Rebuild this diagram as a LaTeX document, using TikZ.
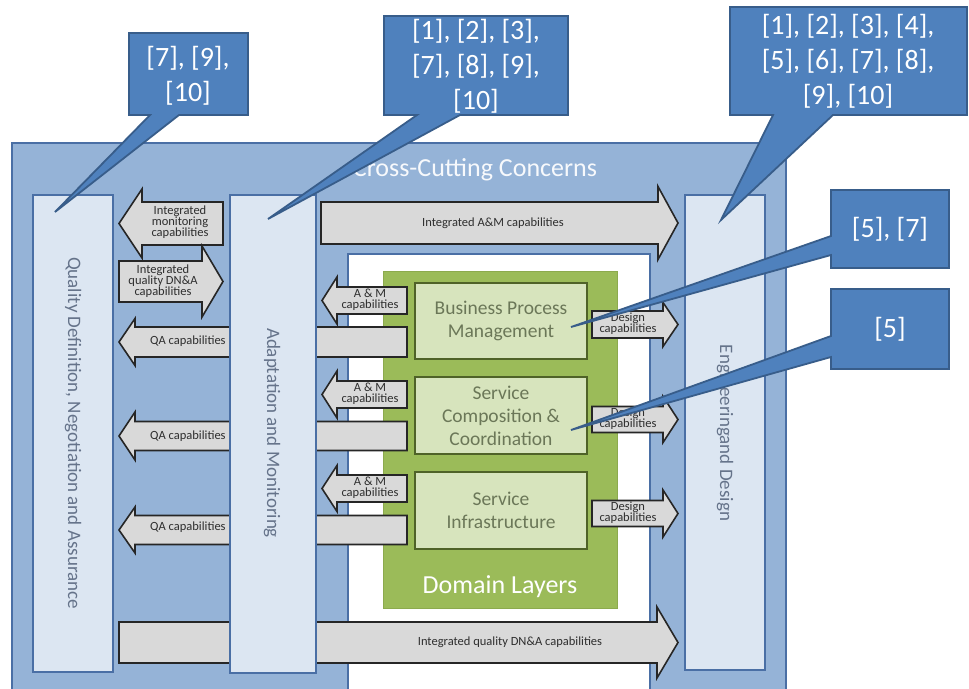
\documentclass[tikz,border=0pt]{standalone}
\usepackage{fontspec}
\setmainfont{Carlito}
\definecolor{outerblue}{HTML}{95B3D7}
\definecolor{blueline}{HTML}{4A6FA5}
\definecolor{panelfill}{HTML}{DCE6F2}
\definecolor{calfill}{HTML}{4F81BD}
\definecolor{calline}{HTML}{385D8A}
\definecolor{grayfill}{HTML}{D9D9D9}
\definecolor{grayline}{HTML}{262626}
\definecolor{greenbox}{HTML}{9BBB59}
\definecolor{greenline}{HTML}{8CAA4E}
\definecolor{lightgreen}{HTML}{D7E4BD}
\definecolor{olive}{HTML}{4F6228}
\definecolor{paneltext}{HTML}{65738A}
\definecolor{boxtext}{HTML}{6B7758}
\definecolor{arrtext}{HTML}{2E2E2E}
\newcommand\garrL[6]{\draw[garrow] (#1,#4) -- (#2,{#4-#6}) -- (#2,{#4-#5}) -- (#3,{#4-#5}) -- (#3,{#4+#5}) -- (#2,{#4+#5}) -- (#2,{#4+#6}) -- cycle;}
\newcommand\garrR[6]{\draw[garrow] (#3,#4) -- (#2,{#4-#6}) -- (#2,{#4-#5}) -- (#1,{#4-#5}) -- (#1,{#4+#5}) -- (#2,{#4+#5}) -- (#2,{#4+#6}) -- cycle;}
\begin{document}
\begin{tikzpicture}[x=1pt,y=-1pt,
  garrow/.style={fill=grayfill,draw=grayline,line width=1.6pt,line join=miter},
  arrlabel/.style={text=arrtext,font=\fontsize{12.5}{11.2}\selectfont,align=center,inner sep=0pt},
  panelbox/.style={fill=panelfill,draw=blueline,line width=1.5pt},
  panellabel/.style={text=paneltext,font=\fontsize{19}{21}\selectfont,rotate=-90,inner sep=0pt},
  layerbox/.style={fill=lightgreen,draw=olive,line width=1.8pt},
  layertext/.style={text=boxtext,font=\fontsize{19.5}{23}\selectfont,align=center,inner sep=0pt},
  callout/.style={fill=calfill,draw=calline,line width=1.8pt,line join=miter},
  caltext/.style={text=white,font=\fontsize{28}{35}\selectfont,align=center,inner sep=0pt}]
\useasboundingbox (0,0) rectangle (969,688);
\clip (0,0) rectangle (969,688);
\fill[white] (0,0) rectangle (969,688);
% outer cross-cutting area
\draw[fill=outerblue,draw=blueline,line width=1.8pt] (12,143) rectangle (786,720);
\node[text=white!92!outerblue,font=\fontsize{26}{28}\selectfont,inner sep=0pt] (ccc) at (475,170) {Cross-Cutting Concerns};
% white inner area
\draw[fill=white,draw=blueline,line width=1.5pt] (348,254) rectangle (650,720);
% domain layers
\draw[fill=greenbox,draw=greenline,line width=1pt] (383,271) rectangle (617,608);
\node[text=white,font=\fontsize{26}{28}\selectfont,inner sep=0pt] (dl) at (500,587) {Domain Layers};
\draw[layerbox] (415,283) rectangle (587,359);
\node[layertext] (bpm) at (501,321) {Business Process\\Management};
\draw[layerbox] (415,377) rectangle (587,454);
\node[layertext] (scc) at (501,415.5) {Service\\Composition \&\\Coordination};
\draw[layerbox] (415,472) rectangle (587,549);
\node[layertext] (si) at (501,510.5) {Service\\Infrastructure};
% arrows
\garrL{119}{142}{223}{223.5}{21.5}{34.5}
\node[arrlabel] (im) at (180,222) {Integrated\\monitoring\\capabilities};
\garrR{119}{202}{223}{281.5}{20.5}{35.5}
\node[arrlabel] (iq) at (163,281) {Integrated\\quality DN\&A\\capabilities};
\garrL{119}{135}{407}{342}{15}{23.5}
\garrL{119}{135}{407}{436}{14.5}{24}
\garrL{119}{135}{407}{530}{14.5}{23}
\node[arrlabel,anchor=west] (qa1) at (150,341) {QA capabilities};
\node[arrlabel,anchor=west] (qa2) at (150,436) {QA capabilities};
\node[arrlabel,anchor=west] (qa3) at (150,527) {QA capabilities};
\garrL{322}{337}{407}{300.5}{13.5}{23.5}
\garrL{322}{337}{407}{394.5}{13.5}{23.5}
\garrL{322}{337}{407}{488.5}{13.5}{23}
\node[arrlabel] (am1) at (370,300) {A \& M\\capabilities};
\node[arrlabel] (am2) at (370,394) {A \& M\\capabilities};
\node[arrlabel] (am3) at (370,488) {A \& M\\capabilities};
\garrR{592}{663}{678}{324.5}{13.5}{22}
\garrR{592}{663}{678}{419.5}{13}{23}
\garrR{592}{663}{678}{513.5}{13}{23.5}
\node[arrlabel] (d1) at (628,324) {Design\\capabilities};
\node[arrlabel] (d2) at (628,419) {Design\\capabilities};
\node[arrlabel] (d3) at (628,513) {Design\\capabilities};
\garrR{321}{658}{678}{223}{21}{36.5}
\node[arrlabel] (iam) at (493,223) {Integrated A\&M capabilities};
\garrR{119}{657}{678}{642.5}{20.5}{35.5}
\node[arrlabel] (iqb) at (510,642) {Integrated quality DN\&A capabilities};
% vertical panels
\draw[panelbox] (33,195) rectangle (113,672);
\node[panellabel] (qd) at (73,433) {Quality Definition, Negotiation and Assurance};
\draw[panelbox] (230,195) rectangle (316,673);
\node[panellabel] (am) at (272,433) {Adaptation and Monitoring};
\draw[panelbox] (685,195) rectangle (765,670);
\node[panellabel] (ed) at (725,433) {Engineeringand Design};
% callouts
\draw[callout] (129,33) -- (248,33) -- (248,115) -- (179,115) -- (55,212) -- (150,115) -- (129,115) -- cycle;
\node[caltext] (c1) at (188,76) {[7], [9],\\\relax [10]};
\draw[callout] (384,16) -- (568,16) -- (568,115) -- (460,115) -- (268,219) -- (417,115) -- (384,115) -- cycle;
\node[caltext] (c2) at (476,66) {[1], [2], [3],\\\relax [7], [8], [9],\\\relax [10]};
\draw[callout] (730,7) -- (967,7) -- (967,115) -- (833,115) -- (721,220) -- (773,115) -- (730,115) -- cycle;
\node[caltext] (c3) at (848,61) {[1], [2], [3], [4],\\\relax [5], [6], [7], [8],\\\relax [9], [10]};
\draw[callout] (831,190) -- (949,190) -- (949,268) -- (831,268) -- (831,255) -- (571,327) -- (831,236) -- cycle;
\node[caltext] (c4) at (890,229) {[5], [7]};
\draw[callout] (831,289) -- (949,289) -- (949,369) -- (831,369) -- (831,357) -- (571,430) -- (831,336) -- cycle;
\node[caltext] (c5) at (890,329) {[5]};
\end{tikzpicture}
\end{document}
